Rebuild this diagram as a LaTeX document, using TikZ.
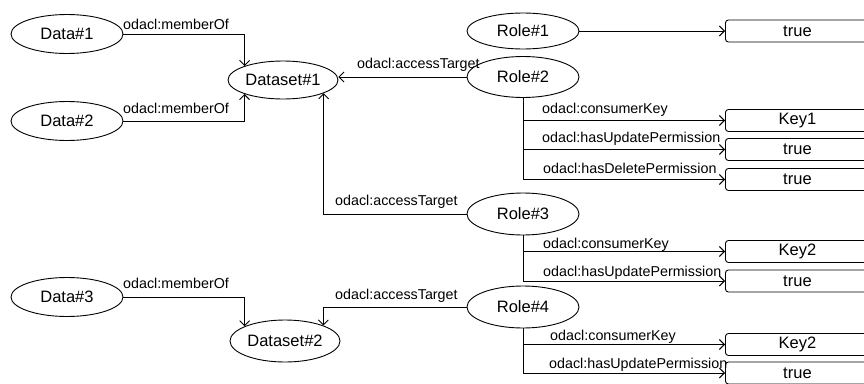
\documentclass[tikz,border=0pt]{standalone}
\usepackage{fontspec}
\setmainfont{Liberation Sans}
\usetikzlibrary{arrows.meta,shapes.geometric}
\begin{document}
\begin{tikzpicture}[x=1pt,y=-1pt,
  every node/.style={inner sep=0pt},
  ell/.style={draw, ellipse, minimum width=112pt, minimum height=39pt, font=\fontsize{16.5}{18}\selectfont, line width=0.9pt},
  valbox/.style={draw, rectangle, rounded corners=3pt, minimum width=144pt, minimum height=22pt, anchor=west, font=\fontsize{16.5}{18}\selectfont, line width=0.9pt},
  lbl/.style={anchor=west, font=\fontsize{14.3}{16}\selectfont},
  arr/.style={-{Straight Barb[length=5pt,width=10pt]}, line width=0.9pt}
]
\clip (0,0) rectangle (864,383);
\useasboundingbox (0,0) rectangle (864,383);

% ellipses
\node[ell] (D1) at (67,34) {Data\#1};
\node[ell] (D2) at (67,121) {Data\#2};
\node[ell] (D3) at (67,297) {Data\#3};
\node[ell, minimum width=110pt, minimum height=38pt] (DS1) at (283,80) {Dataset\#1};
\node[ell, minimum width=110pt, minimum height=42pt] (DS2) at (285,341) {Dataset\#2};
\node[ell, minimum height=36pt] (R1) at (523,31) {Role\#1};
\node[ell, minimum height=41pt] (R2) at (523,77) {Role\#2};
\node[ell, minimum height=42pt] (R3) at (523,214) {Role\#3};
\node[ell, minimum height=42pt] (R4) at (523,307) {Role\#4};

% value boxes
\node[valbox] (T1) at (725,31) {true};
\node[valbox] (K1) at (725,120.5) {Key1};
\node[valbox] (T2) at (725,149.5) {true};
\node[valbox] (T3) at (725,179.5) {true};
\node[valbox] (K2) at (725,251.5) {Key2};
\node[valbox] (T4) at (725,281) {true};
\node[valbox] (K3) at (725,344.5) {Key2};
\node[valbox] (T5) at (725,373) {true};

% connectors
\draw[arr] (D1.east) -| (DS1.160);
\draw[arr] (D2.east) -| (DS1.200);
\draw[arr] (D3.east) -| (DS2.160);
\draw[arr] (R2.west) -- (R2.west -| DS1.east);
\draw[arr] (R3.west) -| (DS1.342);
\draw[arr] (R4.west) -| (DS2.22);
\draw[arr] (R1.east) -- (T1.west);
\draw[arr] (R2.south) |- (K1.west);
\draw[arr] (R2.south) |- (T2.west);
\draw[arr] (R2.south) |- (T3.west);
\draw[arr] (R3.south) |- (K2.west);
\draw[arr] (R3.south) |- (T4.west);
\draw[arr] (R4.south) |- (K3.west);
\draw[arr] (R4.south) |- (T5.west);

% labels
\node[lbl] (L1) at (123,24) {odacl:memberOf};
\node[lbl] (L2) at (123,108) {odacl:memberOf};
\node[lbl] (L3) at (357,65) {odacl:accessTarget};
\node[lbl] (L4) at (542,110) {odacl:consumerKey};
\node[lbl] (L5) at (542,139) {odacl:hasUpdatePermission};
\node[lbl] (L6) at (543,168) {odacl:hasDeletePermission};
\node[lbl] (L7) at (335,202) {odacl:accessTarget};
\node[lbl] (L8) at (543,245) {odacl:consumerKey};
\node[lbl] (L9) at (543,273) {odacl:hasUpdatePermission};
\node[lbl] (L10) at (123,283) {odacl:memberOf};
\node[lbl] (L11) at (335,296) {odacl:accessTarget};
\node[lbl] (L12) at (550,337) {odacl:consumerKey};
\node[lbl] (L13) at (549,365) {odacl:hasUpdatePermission};
\end{tikzpicture}
\end{document}
